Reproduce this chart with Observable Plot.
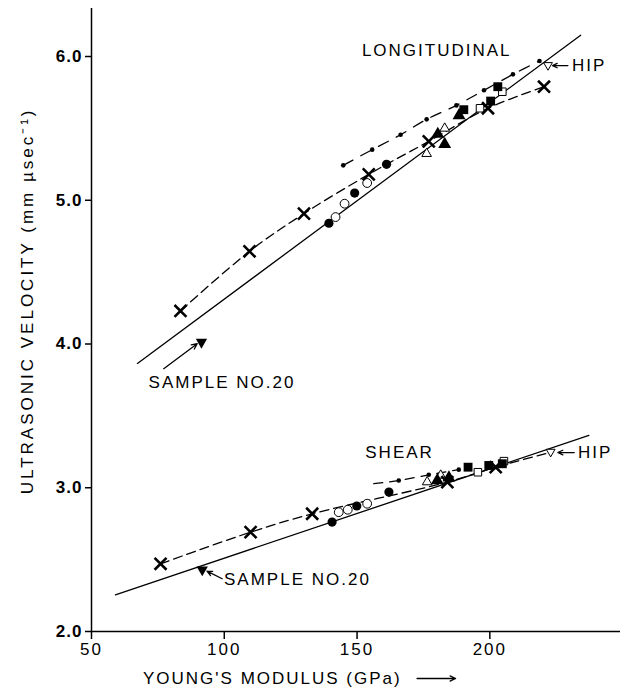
<!DOCTYPE html>
<html>
<head>
<meta charset="utf-8">
<script src="https://cdn.jsdelivr.net/npm/d3@7"></script>
<script src="https://cdn.jsdelivr.net/npm/@observablehq/plot@0.6"></script>
<style>
  html, body { margin: 0; padding: 0; background: #fff; }
</style>
</head>
<body>
<div id="chart"></div>
<script>
// ---- tick labels ----
const xTicks = [50, 100, 150, 200];
const yTicks = [2, 3, 4, 5, 6];

// ---- LONGITUDINAL ----
const longFitX = [67.3, 234.2];
const longFitV = [3.865, 6.148];
const longCrossX = [83.5, 109.5, 130, 154.4, 177, 199.3, 220.4];
const longCrossV = [4.23, 4.645, 4.907, 5.18, 5.41, 5.64, 5.79];
const longSmallX = [144.8, 155.7, 166.4, 176.2, 187.4, 197.8, 208.7, 218.7];
const longSmallV = [5.243, 5.352, 5.456, 5.563, 5.66, 5.765, 5.876, 5.969];
const longDiscX = [139.4, 149.1, 161.1];
const longDiscV = [4.84, 5.05, 5.25];
const longRingX = [141.9, 145.3, 153.8];
const longRingV = [4.883, 4.976, 5.12];
const longTriOpenX = [176.2, 183];
const longTriOpenV = [5.324, 5.5];
const longTriX = [180.4, 183, 188.4];
const longTriV = [5.46, 5.39, 5.59];
const longSqX = [190.2, 200.3, 203];
const longSqV = [5.63, 5.69, 5.79];
const longSqOpenX = [196.3, 204.7];
const longSqOpenV = [5.64, 5.755];
const longHipX = [221.9];
const longHipV = [5.94];
const longS20X = [91.4];
const longS20V = [4.013];

// ---- SHEAR ----
const shearFitX = [59, 237.3];
const shearFitV = [2.255, 3.364];
const shearCrossX = [76, 109.9, 133.1, 184, 202.2];
const shearCrossV = [2.471, 2.691, 2.819, 3.039, 3.143];
const shearCrossLineX = [76, 109.9, 133.1, 184, 202.2, 221.5];
const shearCrossLineV = [2.471, 2.691, 2.819, 3.039, 3.143, 3.24];
const shearSmallX = [165.7, 177, 188.3];
const shearSmallV = [3.05, 3.09, 3.126];
const shearSmallLineX = [156.3, 165.7, 177, 188.3];
const shearSmallLineV = [3.028, 3.05, 3.09, 3.126];
const shearDiscX = [140.6, 149.9, 162];
const shearDiscV = [2.761, 2.873, 2.97];
const shearRingX = [143.1, 146.5, 153.8];
const shearRingV = [2.83, 2.847, 2.889];
const shearTriOpenX = [176.4, 181.5];
const shearTriOpenV = [3.04, 3.086];
const shearTriX = [180.2, 184.6];
const shearTriV = [3.05, 3.07];
const shearSqX = [191.8, 199.6, 204.7];
const shearSqV = [3.143, 3.155, 3.167];
const shearSqOpenX = [195.5, 205.3];
const shearSqOpenV = [3.108, 3.185];
const shearHipX = [222.9];
const shearHipV = [3.25];
const shearS20X = [91.7];
const shearS20V = [2.43];

// ---- annotations ----
const titleText = ["LONGITUDINAL", "SHEAR"];
const titleX = [180, 166];
const titleV = [6.04, 3.245];
const noteText = ["HIP", "HIP", "SAMPLE NO.20", "SAMPLE NO.20"];
const noteX = [230.9, 233.2, 71.5, 99.9];
const noteV = [5.937, 3.245, 3.733, 2.362];
const arrowX1 = [229.4, 231.8, 77.2, 99.2, 172.6];
const arrowV1 = [5.937, 3.245, 3.828, 2.367, 1.673];
const arrowX2 = [223.6, 225.6, 89.8, 93.5, 187.1];
const arrowV2 = [5.937, 3.245, 4.002, 2.42, 1.673];
const xTitle = "YOUNG'S MODULUS (GPa)";
const xTitleX = [118.1], xTitleV = [1.673];
const yTitle = "ULTRASONIC VELOCITY (mm µsec⁻¹)";
const yTitleX = [25.9], yTitleV = [4.3];

const zip = (xs, vs) => xs.map((x, i) => ({x, v: vs[i]}));
const titles = titleText.map((t, i) => ({t, x: titleX[i], v: titleV[i]}));
const notes = noteText.map((t, i) => ({t, x: noteX[i], v: noteV[i]}));
const arrows = arrowX1.map((x1, i) => ({x1, y1: arrowV1[i], x2: arrowX2[i], y2: arrowV2[i]}));

const lineOpts = {x: "x", y: "v", stroke: "black", strokeWidth: 1.3};

const chart = Plot.plot({
  width: 620,
  height: 693,
  marginLeft: 91,
  marginRight: 0,
  marginTop: 8,
  marginBottom: 62,
  x: {domain: [50, 249.2], ticks: xTicks, tickSize: 8, tickPadding: 3, label: null},
  y: {domain: [2, 6.334], ticks: yTicks, tickSize: 6, tickPadding: 3, tickFormat: d => d.toFixed(1), label: null},
  style: {fontFamily: "'Liberation Sans', Arial, sans-serif", fontSize: "17px", background: "white", color: "black"},
  marks: [
    Plot.ruleX([50], {y1: 2, y2: 6.334, stroke: "black", strokeWidth: 1.5}),
    Plot.ruleY([2], {x1: 50, x2: 249.2, stroke: "black", strokeWidth: 1.5}),

    // fit lines
    Plot.line(zip(longFitX, longFitV), lineOpts),
    Plot.line(zip(shearFitX, shearFitV), lineOpts),
    // dashed curves
    Plot.line(zip(longCrossX, longCrossV), {...lineOpts, curve: "catmull-rom", strokeDasharray: "9,5"}),
    Plot.line(zip(longSmallX, longSmallV), {...lineOpts, curve: "catmull-rom", strokeDasharray: "11,9"}),
    Plot.line(zip(shearCrossLineX, shearCrossLineV), {...lineOpts, curve: "catmull-rom", strokeDasharray: "9,5"}),
    Plot.line(zip(shearSmallLineX, shearSmallLineV), {...lineOpts, curve: "catmull-rom", strokeDasharray: "9,7"}),

    // longitudinal markers
    Plot.dot(zip(longSmallX, longSmallV), {x: "x", y: "v", r: 2.3, fill: "black"}),
    Plot.dot(zip(longDiscX, longDiscV), {x: "x", y: "v", r: 4.6, fill: "black"}),
    Plot.dot(zip(longRingX, longRingV), {x: "x", y: "v", r: 4.4, fill: "white", stroke: "black", strokeWidth: 1}),
    Plot.dot(zip(longTriOpenX, longTriOpenV), {x: "x", y: "v", symbol: "triangle2", r: 4.6, fill: "white", stroke: "black", strokeWidth: 1}),
    Plot.dot(zip(longTriX, longTriV), {x: "x", y: "v", symbol: "triangle", r: 4.8, fill: "black"}),
    Plot.dot(zip(longSqOpenX, longSqOpenV), {x: "x", y: "v", symbol: "square2", r: 4.8, fill: "white", stroke: "black", strokeWidth: 1}),
    Plot.dot(zip(longSqX, longSqV), {x: "x", y: "v", symbol: "square", r: 5, fill: "black"}),
    Plot.dot(zip(longHipX, longHipV), {x: "x", y: "v", symbol: "triangle2", rotate: 180, r: 4.2, fill: "white", stroke: "black", strokeWidth: 1}),
    Plot.dot(zip(longS20X, longS20V), {x: "x", y: "v", symbol: "triangle", rotate: 180, r: 4.2, fill: "black"}),
    Plot.dot(zip(longCrossX, longCrossV), {x: "x", y: "v", symbol: "times", r: 5.5, stroke: "black", strokeWidth: 2.6}),

    // shear markers
    Plot.dot(zip(shearSmallX, shearSmallV), {x: "x", y: "v", r: 2.3, fill: "black"}),
    Plot.dot(zip(shearDiscX, shearDiscV), {x: "x", y: "v", r: 4.6, fill: "black"}),
    Plot.dot(zip(shearRingX, shearRingV), {x: "x", y: "v", r: 4.4, fill: "white", stroke: "black", strokeWidth: 1}),
    Plot.dot(zip(shearTriOpenX, shearTriOpenV), {x: "x", y: "v", symbol: "triangle2", r: 4.6, fill: "white", stroke: "black", strokeWidth: 1}),
    Plot.dot(zip(shearTriX, shearTriV), {x: "x", y: "v", symbol: "triangle", r: 4.8, fill: "black"}),
    Plot.dot(zip(shearSqOpenX, shearSqOpenV), {x: "x", y: "v", symbol: "square2", r: 4.8, fill: "white", stroke: "black", strokeWidth: 1}),
    Plot.dot(zip(shearSqX, shearSqV), {x: "x", y: "v", symbol: "square", r: 5, fill: "black"}),
    Plot.dot(zip(shearHipX, shearHipV), {x: "x", y: "v", symbol: "triangle2", rotate: 180, r: 4.2, fill: "white", stroke: "black", strokeWidth: 1}),
    Plot.dot(zip(shearS20X, shearS20V), {x: "x", y: "v", symbol: "triangle", rotate: 180, r: 4.2, fill: "black"}),
    Plot.dot(zip(shearCrossX, shearCrossV), {x: "x", y: "v", symbol: "times", r: 5.5, stroke: "black", strokeWidth: 2.6}),

    // annotations
    Plot.text(titles, {x: "x", y: "v", text: "t", textAnchor: "middle", fill: "black", fontSize: 17}),
    Plot.text(notes, {x: "x", y: "v", text: "t", textAnchor: "start", fill: "black", fontSize: 17}),
    Plot.arrow(arrows, {x1: "x1", y1: "y1", x2: "x2", y2: "y2", stroke: "black", strokeWidth: 1.3, headLength: 7, headAngle: 50}),
    Plot.text(zip(xTitleX, xTitleV), {x: "x", y: "v", text: () => xTitle, fill: "black", fontSize: 17}),
    Plot.text(zip(yTitleX, yTitleV), {x: "x", y: "v", text: () => yTitle, rotate: -90, fill: "black", fontSize: 17, className: "ytitle"})
  ]
});

chart.style.letterSpacing = "2px";
d3.select(chart).selectAll('[aria-label="y-axis tick label"] text').style("font-weight", "bold").style("letter-spacing", "1px");
d3.select(chart).selectAll('.ytitle text').style("letter-spacing", "3px");
d3.select(chart).selectAll('[aria-label="x-axis tick"] path, [aria-label="y-axis tick"] path').attr("stroke-width", 1.5);
document.getElementById("chart").appendChild(chart);
</script>
</body>
</html>
